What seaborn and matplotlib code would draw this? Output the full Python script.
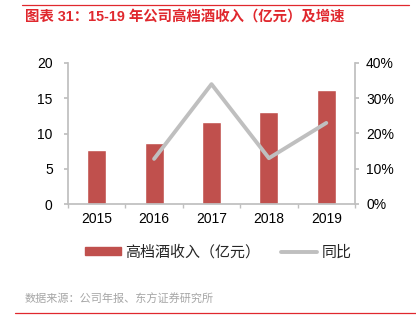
import numpy as np
import pandas as pd
import matplotlib
matplotlib.use("Agg")
import matplotlib.pyplot as plt
import seaborn as sns
from matplotlib.patches import Patch
from matplotlib.lines import Line2D
from matplotlib.ticker import FixedLocator, PercentFormatter

years = ["2015", "2016", "2017", "2018", "2019"]
revenue = [7.7, 8.6, 11.6, 13.1, 16.1]
growth_years = ["2016", "2017", "2018", "2019"]
growth = [12.8, 34.0, 13.0, 23.0]

title = "图表 31：15-19 年公司高档酒收入（亿元）及增速"
bar_label = "高档酒收入（亿元）"
line_label = "同比"
source = "数据来源：公司年报、东方证券研究所"

sns.set_theme(style="white")
plt.rcParams['font.family'] = ['Liberation Sans', 'Noto Sans CJK SC', 'DejaVu Sans']

BAR = "#C0504D"
LINE = "#BFBFBF"
AX = "#BFBFBF"
RED = "#E0282E"

fig = plt.figure(figsize=(4.16, 3.23), dpi=100)
ax = fig.add_axes([68/416, 1-204/323, (355-68)/416, (204-63)/323])

df = pd.DataFrame({"year": years, "rev": revenue})
sns.barplot(data=df, x="year", y="rev", color=BAR, width=0.33, ax=ax, saturation=1)
ax.set_xlim(-0.5, len(years)-0.5)
ax.set_ylim(0, 20)
ax.set_yticks([0, 5, 10, 15, 20])
ax.set_xlabel("")
ax.set_ylabel("")

ax2 = ax.twinx()
pos = [years.index(y) for y in growth_years]
gdf = pd.DataFrame({"x": pos, "g": growth})
sns.lineplot(data=gdf, x="x", y="g", color=LINE, linewidth=2.8, ax=ax2)
ax2.set_ylim(0, 40)
ax2.set_yticks([0, 10, 20, 30, 40])
ax2.yaxis.set_major_formatter(PercentFormatter(decimals=0))
ax2.set_xlabel("")
ax2.set_ylabel("")
ax.set_xlim(-0.5, len(years)-0.5)

for a in (ax, ax2):
    for s in a.spines.values():
        s.set_visible(False)
    a.grid(False)
ax.spines["left"].set_visible(True)
ax.spines["left"].set_color(AX)
ax.spines["bottom"].set_visible(True)
ax.spines["bottom"].set_color(AX)
ax2.spines["right"].set_visible(True)
ax2.spines["right"].set_color(AX)

ax.tick_params(axis="y", left=True, length=3, color=AX, labelsize=10, labelcolor="black", pad=8)
ax2.tick_params(axis="y", right=True, length=3, color=AX, labelsize=10, labelcolor="black", pad=5)
ax.tick_params(axis="x", which="major", length=0, labelsize=10, labelcolor="black", pad=6)
ax.xaxis.set_minor_locator(FixedLocator(np.arange(-0.5, len(years), 1.0)))
ax.tick_params(axis="x", which="minor", bottom=True, length=3, color=AX)

handles = [Patch(facecolor=BAR, edgecolor=BAR),
           Line2D([0], [0], color=LINE, linewidth=2.8)]
fig.legend(handles, [bar_label, line_label], loc="center", bbox_to_anchor=(218/416, 1-252/323),
           ncol=2, frameon=False, fontsize=10.8, handlelength=2.4, handleheight=0.5,
           columnspacing=1.4, handletextpad=0.3)

fig.text(25/416, 1-17/323, title, color=RED, fontsize=10.4, fontweight="bold", va="center", ha="left")
fig.text(25/416, 1-299/323, source, color="#A6A6A6", fontsize=8, va="center", ha="left")
fig.add_artist(Line2D([22/416, 409/416], [1-5/323, 1-5/323], color=RED, linewidth=0.9))
fig.add_artist(Line2D([15/416, 1.0], [1-313/323, 1-313/323], color=RED, linewidth=0.9))

fig.savefig("out.png", dpi=100)
